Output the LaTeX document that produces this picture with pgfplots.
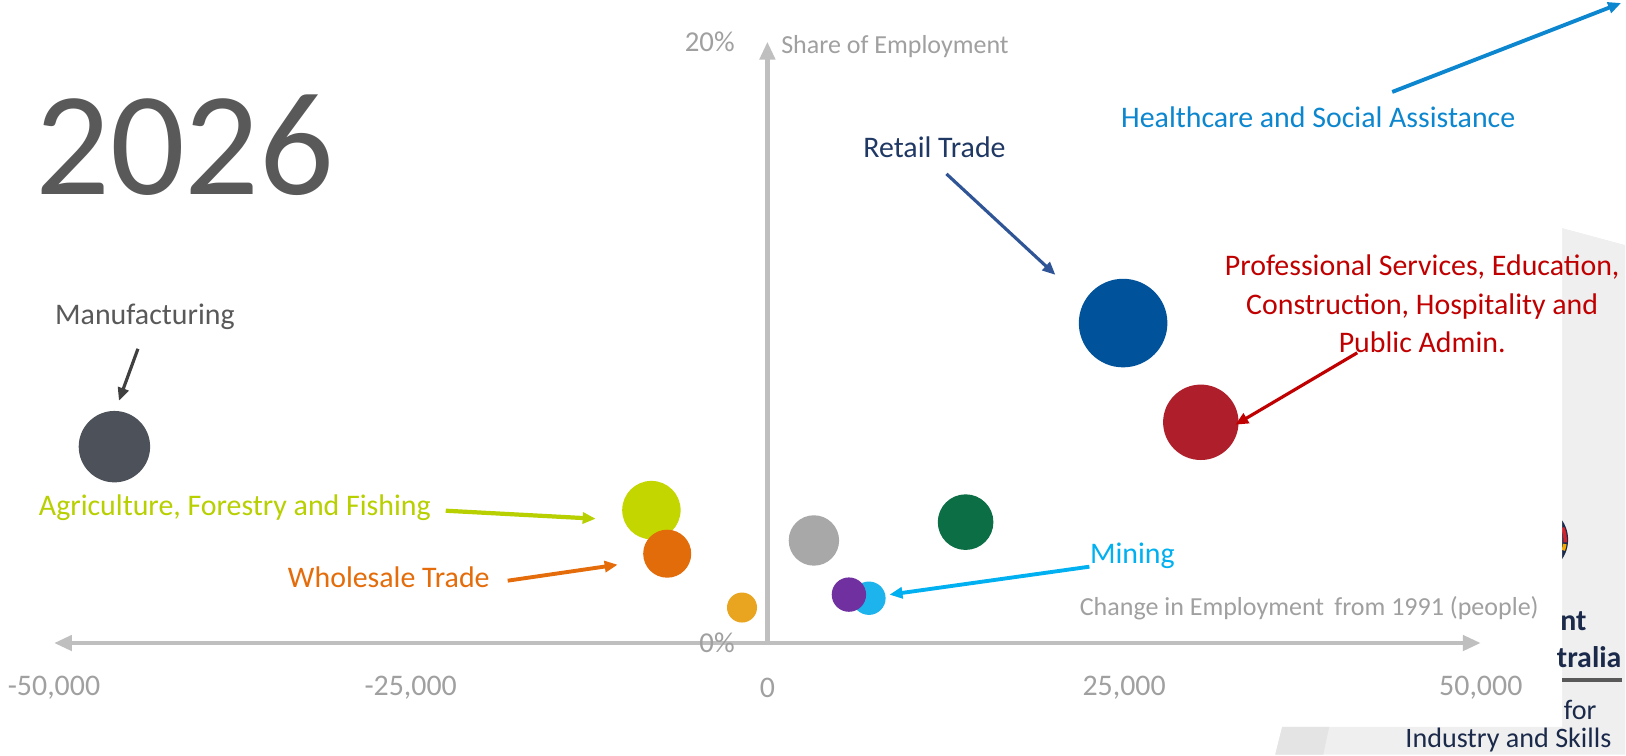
\documentclass[border=0pt]{standalone}
\usepackage{pgfplots}
\pgfplotsset{compat=1.18}
\usepackage{fontspec}
\setmainfont{Carlito}
\usetikzlibrary{arrows.meta}
\definecolor{axisgray}{HTML}{BFBFBF}
\definecolor{tickgray}{HTML}{A0A0A0}
\definecolor{titlegray}{HTML}{595959}
\definecolor{bggray}{HTML}{EFEFEF}
\definecolor{bgstripe}{HTML}{E4E4E4}
\definecolor{logonavy}{HTML}{1B2A4A}
\definecolor{logored}{HTML}{D2232A}
\definecolor{logoyel}{HTML}{F2A900}
\definecolor{cmfg}{HTML}{4D5159}
\definecolor{cagri}{HTML}{C4D600}
\definecolor{cwhol}{HTML}{E36C0A}
\definecolor{csmall}{HTML}{E9A520}
\definecolor{cgray}{HTML}{A8A8A8}
\definecolor{cpurp}{HTML}{7030A0}
\definecolor{cmin}{HTML}{1DB3EC}
\definecolor{cgrn}{HTML}{0B6E45}
\definecolor{cret}{HTML}{00529B}
\definecolor{cred}{HTML}{AF1F2B}
\definecolor{tmfg}{HTML}{595959}
\definecolor{amfg}{HTML}{404040}
\definecolor{tret}{HTML}{1F3864}
\definecolor{aret}{HTML}{2F5597}
\definecolor{thealth}{HTML}{0C87CF}
\definecolor{tprof}{HTML}{C00000}
\definecolor{tagri}{HTML}{B8CF00}
\definecolor{twhol}{HTML}{E46C0A}
\definecolor{tmin}{HTML}{00B0F0}
\begin{document}
\begin{tikzpicture}
\useasboundingbox (0,0) rectangle (16.26cm,7.55cm);
\begin{scope}[x=0.01cm,y=-0.01cm,shift={(0cm,7.55cm)}]
% background of the slide (logo area)
\fill[bggray] (1563,228) -- (1626,245) -- (1626,755) -- (1276,755) -- (1283,727) -- (1563,727) -- cycle;
\fill[bgstripe] (1283,727) -- (1330,727) -- (1324,755) -- (1276,755) -- cycle;
\fill[logonavy] (1535,540) circle (34);
\draw[logored, line width=1pt] (1535,540) ++(-23:31) arc (-23:5:31);
\draw[logoyel, line width=1pt] (1535,540) ++(8:31) arc (8:20:31);
\fill[white] (0,0) -- (1563,0) -- (1563,228) -- (1563,727) -- (0,727) -- cycle;
\fill[white] (1563,0) -- (1626,0) -- (1626,245) -- (1563,228) -- cycle;
\node[anchor=east, font=\fontsize{8.5}{10}\selectfont\bfseries, text=logonavy, inner sep=0pt] at (1588,622) {nt};
\node[anchor=east, font=\fontsize{8.5}{10}\selectfont\bfseries, text=logonavy, inner sep=0pt] at (1623,657) {tralia};
\node[anchor=east, font=\fontsize{8}{10}\selectfont, text=logonavy, inner sep=0pt] at (1598,710) {for};
\node[anchor=east, font=\fontsize{8}{10}\selectfont, text=logonavy, inner sep=0pt] at (1613,740) {Industry and Skills};
\draw[line width=1.1pt, titlegray] (1563,680) -- (1623,680);
\end{scope}

\begin{axis}[
  at={(0.540cm,1.12cm)}, anchor=south west,
  scale only axis, width=14.268cm, height=6.014cm,
  xmin=-50000, xmax=50000, ymin=0, ymax=20,
  enlargelimits=false,
  scaled x ticks=false, scaled y ticks=false,
  axis lines=middle,
  axis line style={draw=axisgray, line width=1.3pt},
  x axis line style={{Triangle[length=0.18cm,width=0.15cm]}-{Triangle[length=0.18cm,width=0.15cm]}},
  y axis line style={-{Triangle[length=0.18cm,width=0.15cm]}},
  xtick={-50000,-25000,0,25000,50000},
  xticklabels={{-50,000},{-25,000},0,{25,000},{50,000}},
  ytick={0,20}, yticklabels={0\%,20\%},
  major tick length=0pt,
  tick style={draw=none},
  hide obscured x ticks=false, hide obscured y ticks=false,
  xticklabel style={font=\fontsize{8.5}{10}\selectfont, text=tickgray, anchor=center, inner sep=0pt, yshift=-0.45cm},
  yticklabel style={font=\fontsize{8.2}{10}\selectfont, text=tickgray, anchor=east, inner sep=0pt, xshift=-0.32cm},
  clip=false,
]
\addplot[only marks, mark=*, mark size=9.96pt, color=cmfg, mark options={draw=none}] coordinates {(-45766,6.53)};
\addplot[only marks, mark=*, mark size=8.11pt, color=cagri, mark options={draw=none}] coordinates {(-8130,4.42)};
\addplot[only marks, mark=*, mark size=6.63pt, color=cwhol, mark options={draw=none}] coordinates {(-7023,2.97)};
\addplot[only marks, mark=*, mark size=4.07pt, color=csmall, mark options={draw=none}] coordinates {(-1780,1.18)};
\addplot[only marks, mark=*, mark size=6.97pt, color=cgray, mark options={draw=none}] coordinates {(3259,3.41)};
\addplot[only marks, mark=*, mark size=4.55pt, color=cmin, mark options={draw=none}] coordinates {(7114,1.49)};
\addplot[only marks, mark=*, mark size=4.69pt, color=cpurp, mark options={draw=none}] coordinates {(5712,1.61)};
\addplot[only marks, mark=*, mark size=7.71pt, color=cgrn, mark options={draw=none}] coordinates {(13891,4.02)};
\addplot[only marks, mark=*, mark size=12.4pt, color=cret, mark options={draw=none}] coordinates {(24930,10.64)};
\addplot[only marks, mark=*, mark size=10.53pt, color=cred, mark options={draw=none}] coordinates {(30376,7.34)};
\end{axis}

\begin{scope}[x=0.01cm,y=-0.01cm,shift={(0cm,7.55cm)}]
\tikzset{lab/.style={font=\fontsize{8.5}{10.95}\selectfont, inner sep=0pt},
         arr/.style={line width=0.9pt, -{Triangle[length=0.13cm,width=0.11cm]}}}
\node[font=\fontsize{42}{50}\selectfont, text=titlegray] at (185,145) {2026};
\node[anchor=west, font=\fontsize{7.4}{9}\selectfont, text=tickgray, inner sep=0pt] at (781,47) {Share of Employment};
\node[font=\fontsize{7.4}{9}\selectfont, text=tickgray, inner sep=0pt] at (1310,609) {Change in Employment\, from 1991 (people)};
% labels
\node[lab, text=tmfg] at (145,317) {Manufacturing};
\draw[arr, amfg] (138,349) -- (119,401);
\node[lab, text=tret] at (935,147) {Retail Trade};
\draw[arr, aret] (947,174) -- (1056,275);
\node[lab, text=thealth] at (1319,117) {Healthcare and Social Assistance};
\draw[arr, thealth, line width=1.1pt] (1393,92) -- (1622,3);
\node[lab, text=tprof, align=center] at (1423,304) {Professional Services, Education,\\Construction, Hospitality and\\Public Admin.};
\draw[arr, tprof] (1358,353) -- (1236,425);
\node[lab, text=tagri] at (235,508) {Agriculture, Forestry and Fishing};
\draw[arr, tagri, line width=1.2pt] (446,511) -- (596,519);
\node[lab, text=twhol] at (389,578) {Wholesale Trade};
\draw[arr, twhol, line width=1.1pt] (508,581) -- (618,565);
\node[lab, text=tmin] at (1133,556) {Mining};
\draw[arr, tmin, line width=1.1pt] (1090,567) -- (890,595);
\end{scope}
\end{tikzpicture}
\end{document}
